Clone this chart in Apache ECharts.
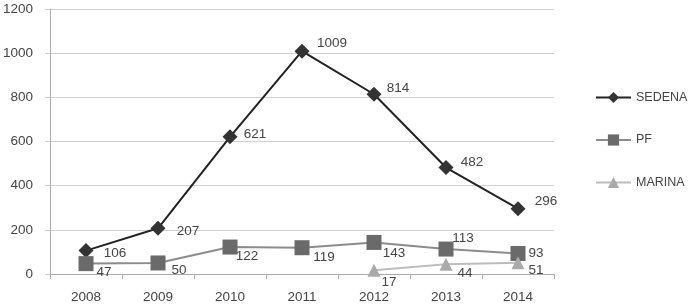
<!DOCTYPE html>
<html><head><meta charset="utf-8">
<script src="https://cdn.jsdelivr.net/npm/echarts@6/dist/echarts.min.js"></script>
<style>html,body{margin:0;padding:0;background:#fff}#c{width:690px;height:304px}</style>
</head><body><div id="c"></div>
<script>
const years = ['2008','2009','2010','2011','2012','2013','2014'];
const sedena = [106, 207, 621, 1009, 814, 482, 296];
const pf = [47, 50, 122, 119, 143, 113, 93];
const marina = [null, null, null, null, 17, 44, 51];
const yTicks = [0, 200, 400, 600, 800, 1000, 1200];

// label offsets (style only)
const sedenaOff = [[29,3],[30,3],[25,-3],[30,-8],[24,-6],[26,-5],[28,-7]];
const pfOff = [[18,9],[21,7],[17,9],[22,10],[20,11],[17,-11],[18,0]];
const marinaOff = [null,null,null,null,[15,12],[19,9],[18,8]];

const font = 'Liberation Sans, Arial, sans-serif';
function build(vals, offs){
  return vals.map((v,i)=> v==null ? null : ({
    value: v,
    label: {show:true, position:'inside', offset: offs[i], color:'#444', fontSize:13.5, fontFamily:font}
  }));
}
const chart = echarts.init(document.getElementById('c'));
chart.setOption({
  animation:false,
  grid:{left:50, right:136, top:9, bottom:30, containLabel:false},
  legend:{
    orient:'vertical', left:595, top:91, itemWidth:35, itemHeight:14, itemGap:29.5, padding:0,
    textStyle:{color:'#444', fontSize:12.5, fontFamily:font},
    data:['SEDENA','PF','MARINA']
  },
  xAxis:{
    type:'category', data:years, boundaryGap:true,
    axisLine:{lineStyle:{color:'#aaa'}},
    axisTick:{show:true, length:5, lineStyle:{color:'#aaa'}},
    axisLabel:{color:'#444', fontSize:13.5, fontFamily:font, margin:16}
  },
  yAxis:{
    type:'value', min:yTicks[0], max:yTicks[yTicks.length-1], interval:200,
    axisLine:{show:true, lineStyle:{color:'#aaa'}},
    axisTick:{show:true, length:5, lineStyle:{color:'#ccc'}},
    splitLine:{lineStyle:{color:'#d0d0d0'}},
    axisLabel:{color:'#444', fontSize:13.5, fontFamily:font, margin:17, formatter: v => String(v)}
  },
  series:[
    {name:'SEDENA', type:'line', data:build(sedena, sedenaOff), symbol:'diamond', symbolSize:15,
     lineStyle:{color:'#222', width:2}, itemStyle:{color:'#333'}},
    {name:'PF', type:'line', data:build(pf, pfOff), symbol:'rect', symbolSize:15,
     lineStyle:{color:'#8c8c8c', width:2}, itemStyle:{color:'#6a6a6a'}},
    {name:'MARINA', type:'line', data:build(marina, marinaOff), symbol:'triangle', symbolSize:13,
     lineStyle:{color:'#bdbdbd', width:2}, itemStyle:{color:'#aaaaaa'}}
  ]
});
</script></body></html>
